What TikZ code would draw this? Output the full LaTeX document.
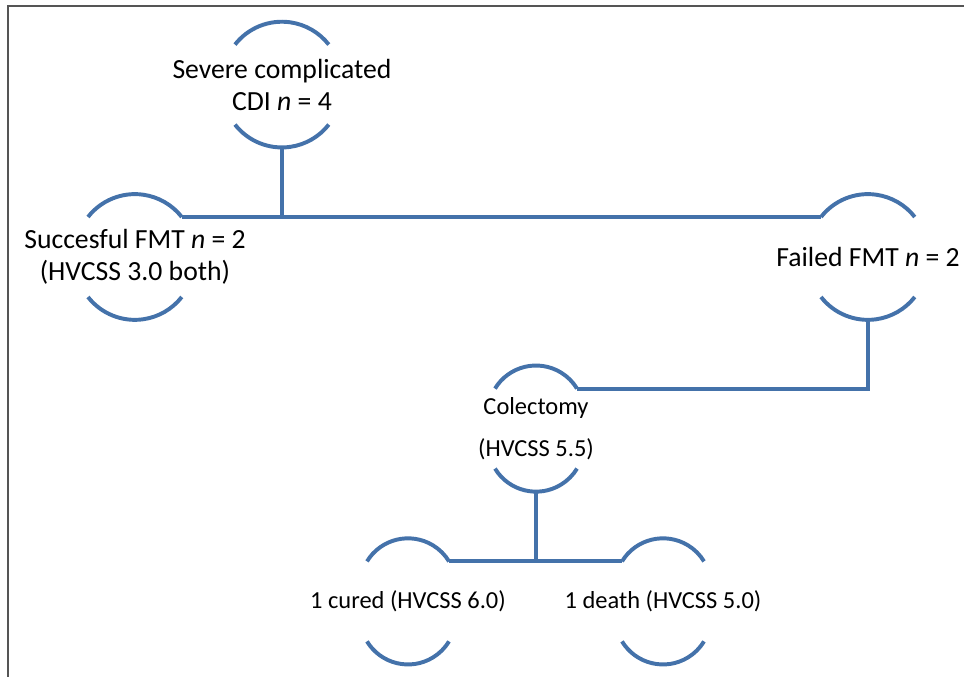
\documentclass[tikz,border=0pt]{standalone}
\usepackage{fontspec}
\setmainfont{Carlito}
\usepackage{xcolor}
\usetikzlibrary{calc,positioning}
\definecolor{flowblue}{RGB}{68,114,170}
\definecolor{framegray}{RGB}{85,85,85}

\begin{document}
\begin{tikzpicture}[
    arcline/.style={draw=flowblue, line width=2.8pt},
    link/.style={draw=flowblue, line width=2.8pt},
    bignode/.style={align=center, font=\fontsize{19.7}{22.8}\selectfont, text=black},
    smallnode/.style={align=center, font=\fontsize{17.4}{20}\selectfont, text=black}]
    \def\W{24.1}    % picture width
    \def\H{16.925}  % picture height
    \useasboundingbox (0,0) rectangle (\W,\H);

    % Frame (top and left edge only)
    \draw[framegray, line width=0.8pt] (0.2,0) -- (0.2,16.775) -- (\W,16.775);

    % Outcome nodes
    \node[bignode] (cdi) at (7.05,14.81) {Severe complicated\\CDI \textit{n} = 4};
    \node[bignode] (succ) at (3.375,10.5) {Succesful FMT \textit{n} = 2\\(HVCSS 3.0 both)};
    \node[bignode] (fail) at (21.7,10.5) {Failed FMT \textit{n} = 2};
    \node[smallnode] (colect) at (13.4,6.21) {Colectomy\\[10pt](HVCSS 5.5)};
    \node[smallnode] (cured) at (10.2,1.89) {1 cured (HVCSS 6.0)};
    \node[smallnode] (death) at (16.575,1.89) {1 death (HVCSS 5.0)};

    % Arcs above and below each node
    \foreach \n/\w/\r/\a in {cdi/1.175/1.4875/52, succ/1.175/1.4875/52, fail/1.175/1.4875/52,
                             colect/1.025/1.2/58.7, cured/1.025/1.2/58.7, death/1.025/1.2/58.7} {
        \coordinate (\n-nw) at ([shift={(-\w,1)}]\n.center);
        \coordinate (\n-ne) at ([shift={(\w,1)}]\n.center);
        \coordinate (\n-sw) at ([shift={(-\w,-1)}]\n.center);
        \coordinate (\n-bot) at ([yshift=-1.575cm]\n.center);
        \draw[arcline] (\n-nw) arc[start angle=90+\a, end angle=90-\a, radius=\r];
        \draw[arcline] (\n-sw) arc[start angle=270-\a, end angle=270+\a, radius=\r];
    }

    % Connectors
    \draw[link] (succ-ne) -- (fail-nw);
    \draw[link] (cdi-bot) -- (cdi-bot |- succ-ne);
    \draw[link] (fail-bot) |- (colect-ne);
    \draw[link] (colect-bot) -- (colect-bot |- cured-ne);
    \draw[link] (cured-ne) -- (death-nw);
\end{tikzpicture}
\end{document}
